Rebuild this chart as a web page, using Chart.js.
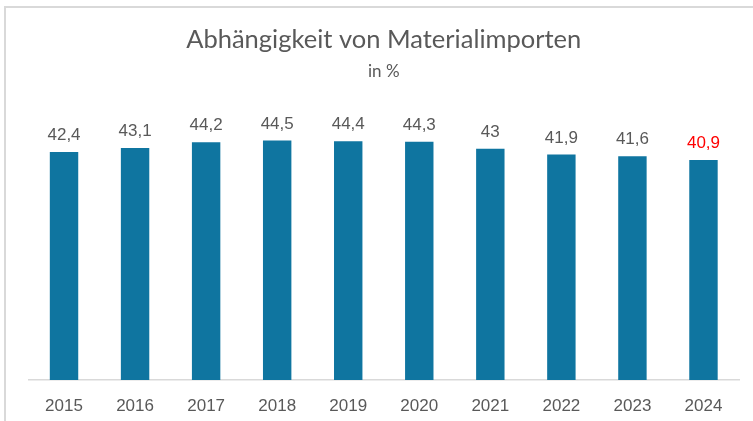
<!DOCTYPE html>
<html>
<head>
<meta charset="utf-8">
<script src="https://cdn.jsdelivr.net/npm/chart.js@4"></script>
<style>
  html, body { margin: 0; padding: 0; background: #ffffff; }
  #wrap { position: relative; width: 753px; height: 421px; overflow: hidden; }
  #frame { position: absolute; left: 4px; top: 6px; width: 800px; height: 500px;
           border-top: 2px solid #d9d9d9; border-left: 2px solid #d9d9d9; pointer-events: none; }
  canvas { display: block; }
</style>
</head>
<body>
<div id="wrap">
  <canvas id="c" width="753" height="421"></canvas>
  <div id="frame"></div>
</div>
<script>
const categories = ["2015", "2016", "2017", "2018", "2019", "2020", "2021", "2022", "2023", "2024"];
const values = [42.4, 43.1, 44.2, 44.5, 44.4, 44.3, 43, 41.9, 41.6, 40.9];
const labelColors = ["#595959", "#595959", "#595959", "#595959", "#595959", "#595959", "#595959", "#595959", "#595959", "#ff0000"];
const titleText = "Abhängigkeit von Materialimporten";
const subtitleText = "in %";

const valueLabels = {
  id: 'valueLabels',
  afterDatasetsDraw(chart) {
    const ctx = chart.ctx;
    const meta = chart.getDatasetMeta(0);
    ctx.save();
    ctx.font = '17px "Liberation Sans", Arial, sans-serif';
    ctx.textAlign = 'center';
    ctx.textBaseline = 'middle';
    meta.data.forEach((bar, i) => {
      ctx.fillStyle = labelColors[i];
      ctx.fillText(String(values[i]).replace('.', ','), bar.x, bar.y - 16.5);
    });
    ctx.restore();
  }
};

new Chart(document.getElementById('c'), {
  type: 'bar',
  data: {
    labels: categories,
    datasets: [{
      data: values,
      backgroundColor: '#0f75a0',
      borderWidth: 0,
      barPercentage: 0.4,
      categoryPercentage: 1.0
    }]
  },
  options: {
    responsive: false,
    animation: false,
    devicePixelRatio: 1,
    layout: { padding: { left: 28.5, right: 14, top: 0, bottom: 0 } },
    plugins: {
      legend: { display: false },
      tooltip: { enabled: false },
      title: {
        display: true,
        text: titleText,
        color: '#595959',
        font: { family: 'Lato', size: 25.5, weight: 'normal' },
        padding: { top: 24.5, bottom: 0 }
      },
      subtitle: {
        display: true,
        text: subtitleText,
        color: '#595959',
        font: { family: 'Lato', size: 17, weight: 'normal' },
        padding: { top: 6.7, bottom: 28.8 }
      }
    },
    scales: {
      x: {
        grid: { display: false, drawTicks: false },
        border: { display: true, color: '#d9d9d9', width: 1.5 },
        ticks: {
          color: '#595959',
          padding: 15.8,
          font: { family: '"Liberation Sans", Arial, sans-serif', size: 17 }
        },
        afterFit(scale) { scale.height = 41; }
      },
      y: {
        display: false,
        min: 0,
        max: 50
      }
    }
  },
  plugins: [valueLabels]
});
</script>
</body>
</html>
